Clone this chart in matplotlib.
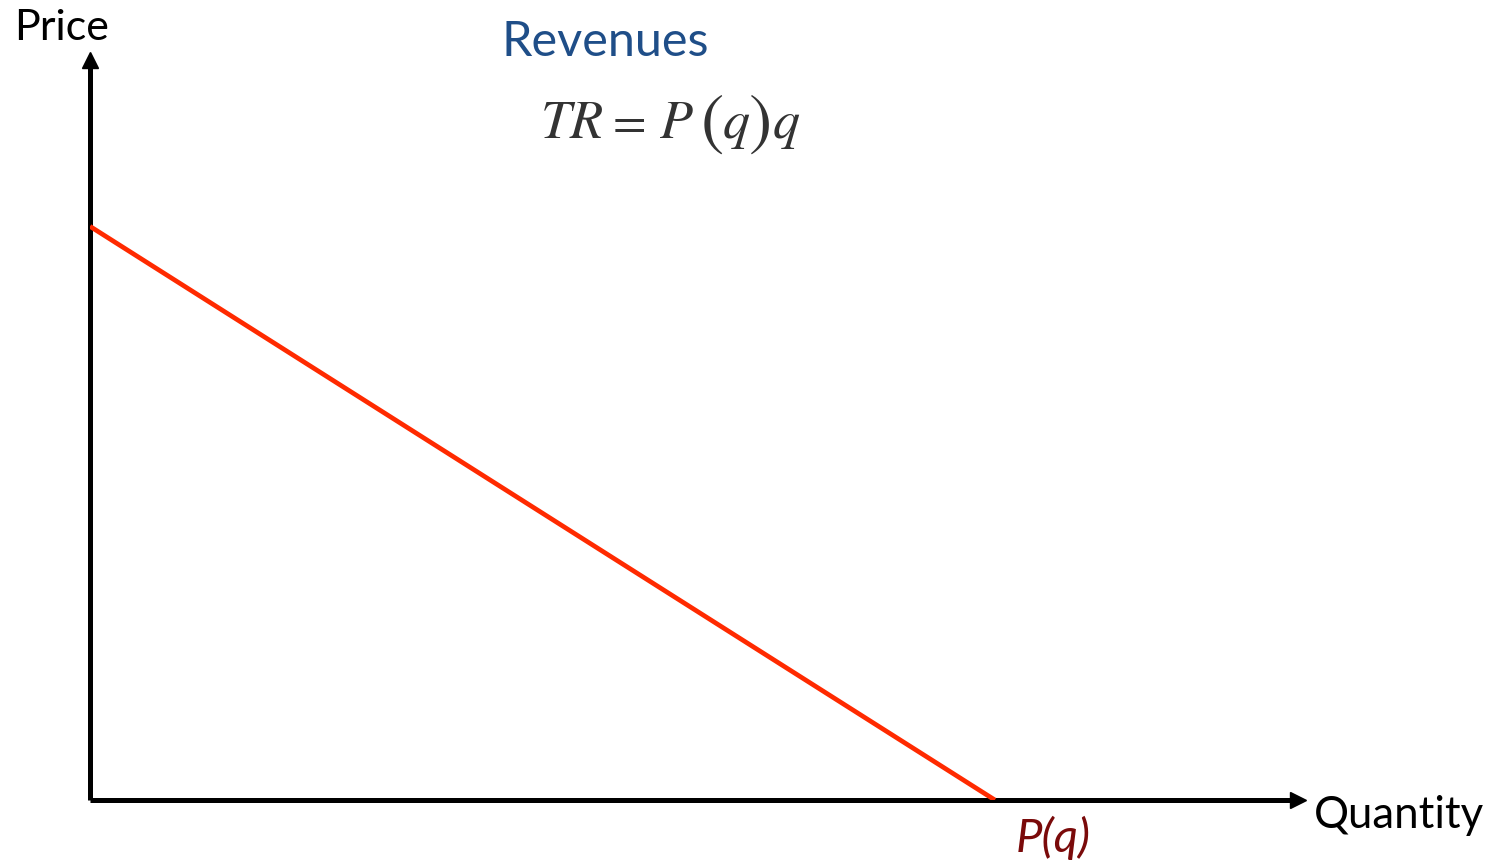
import numpy as np
import matplotlib.pyplot as plt

W, H = 1497, 864

# demand curve P(q): intercepts
quantity = [0.0, 10.0]
price = [10.0, 0.0]
q_max = 13.35
p_max = 12.9

fig = plt.figure(figsize=(W / 100, H / 100), dpi=100)
ax = fig.add_axes([90 / W, (H - 800) / H, (1298 - 90) / W, (800 - 60) / H])
ax.set_xlim(0, q_max)
ax.set_ylim(0, p_max)
ax.axis('off')

# axes with arrow heads
ax.plot([0, q_max], [0, 0], color='black', lw=3.6, clip_on=False, solid_capstyle='butt')
ax.plot([0, 0], [0, p_max], color='black', lw=3.6, clip_on=False, solid_capstyle='butt')
ax.plot([q_max], [0], marker='>', color='black', ms=12, clip_on=False)
ax.plot([0], [p_max], marker='^', color='black', ms=12, clip_on=False)

# demand line
ax.plot(quantity, price, color='#ff2a00', lw=3.4, solid_capstyle='butt')


def px(x, y):
    return x / W, 1 - y / H


fig.text(*px(14, 28), 'Price', fontsize=31, family='Lato', va='center', ha='left')
fig.text(*px(1314, 815), 'Quantity', fontsize=31.5, family='Lato', va='center', ha='left')
fig.text(*px(501, 42), 'Revenues', fontsize=35, family='Lato', color='#1f4e88',
         va='center', ha='left')

# TR = P(q)q, set piece by piece so the brackets can be taller
eq_col = '#333333'
eq_font = dict(fontsize=39, family='STIXGeneral', color=eq_col, va='baseline', ha='left')
fig.text(*px(541, 138), 'TR', style='italic', **eq_font)
fig.text(*px(613, 138), '=', fontsize=35, family='STIXGeneral', color=eq_col,
         va='baseline', ha='left')
fig.text(*px(660, 138), 'P', style='italic', **eq_font)
fig.text(*px(723, 138), 'q', style='italic', **eq_font)
fig.text(*px(773, 138), 'q', style='italic', **eq_font)
fig.text(*px(701, 125), '(', fontsize=50, family='STIXGeneral', color=eq_col,
         va='center', ha='left')
fig.text(*px(749, 125), ')', fontsize=50, family='STIXGeneral', color=eq_col,
         va='center', ha='left')

fig.text(*px(1016, 838), 'P(q)', fontsize=34, family='Lato', style='italic',
         color='#7a0a0a', va='center', ha='left')

fig.savefig('out.png', dpi=100)
